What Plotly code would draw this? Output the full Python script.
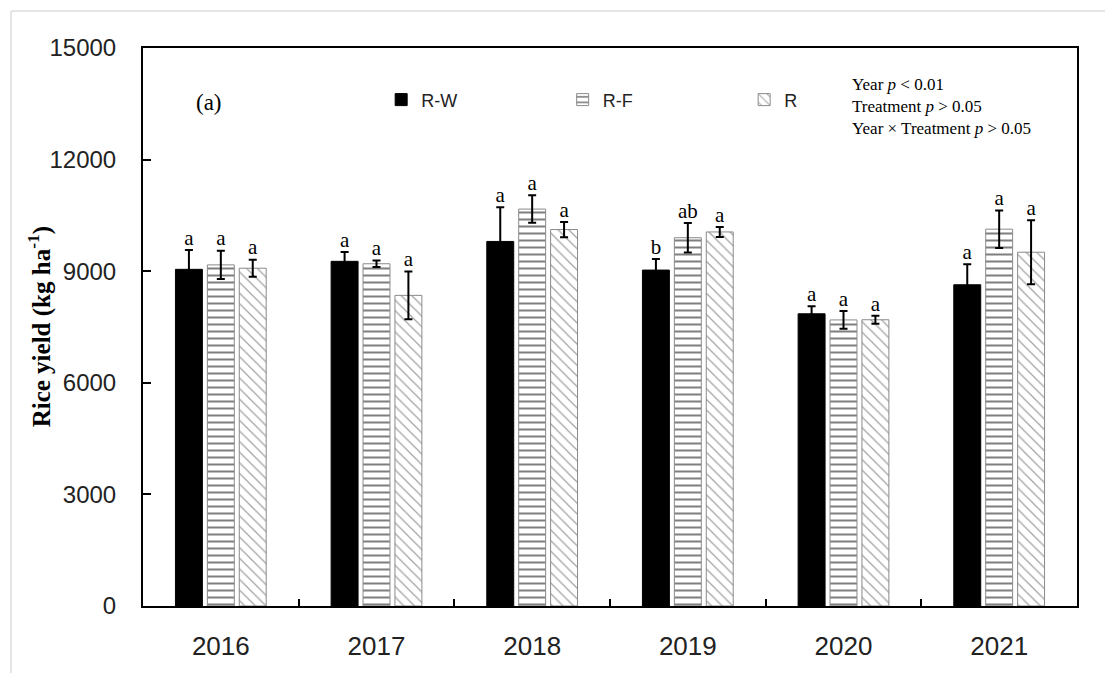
import plotly.graph_objects as go

years = ["2016", "2017", "2018", "2019", "2020", "2021"]

rw_yield = [9050, 9265, 9800, 9030, 7855, 8635]
rf_yield = [9170, 9200, 10670, 9900, 7690, 10130]
r_yield = [9080, 8350, 10120, 10055, 7695, 9510]

rw_err = [520, 250, 920, 295, 200, 555]
rf_err = [380, 90, 370, 395, 240, 505]
r_err = [230, 640, 205, 135, 105, 860]

rw_letters = ["a", "a", "a", "b", "a", "a"]
rf_letters = ["a", "a", "a", "ab", "a", "a"]
r_letters = ["a", "a", "a", "a", "a", "a"]

y_ticks = [0, 3000, 6000, 9000, 12000, 15000]

BARGAP = 0.385
GROUPGAP = 0.156
SERIF = "Liberation Serif, Times New Roman, serif"
SANS = "Liberation Sans, Arial, sans-serif"

slot = (1 - BARGAP) / 3

fig = go.Figure()

series = [
    ("R-W", rw_yield, rw_err, rw_letters,
     dict(color="black", line=dict(color="black", width=1))),
    ("R-F", rf_yield, rf_err, rf_letters,
     dict(color="white", line=dict(color="#8a8a8a", width=1),
          pattern=dict(shape="-", fgcolor="black", bgcolor="white",
                       size=7, solidity=0.29))),
    ("R", r_yield, r_err, r_letters,
     dict(color="white", line=dict(color="#8a8a8a", width=1),
          pattern=dict(shape="\\", fgcolor="#444444", bgcolor="white",
                       size=7.5, solidity=0.16))),
]

for name, vals, errs, _, marker in series:
    fig.add_trace(go.Bar(
        name=name, x=years, y=vals, marker=marker,
        error_y=dict(type="data", array=errs, color="black",
                     thickness=2, width=4, symmetric=True),
    ))

# significance letters above the error bars (numeric overlay axis,
# one unit per year group, so each letter sits over its own bar)
for i, (name, vals, errs, letters, _) in enumerate(series):
    fig.add_trace(go.Scatter(
        x=[k + (i - 1) * slot for k in range(len(years))],
        y=[v + e for v, e in zip(vals, errs)],
        xaxis="x2",
        mode="text", text=letters, textposition="top center",
        textfont=dict(family=SERIF, size=21, color="black"),
        showlegend=False, hoverinfo="skip", cliponaxis=False,
    ))

fig.update_layout(
    width=1105, height=673,
    margin=dict(l=143, r=28, t=48, b=67),
    paper_bgcolor="white", plot_bgcolor="white",
    barmode="group", bargap=BARGAP, bargroupgap=GROUPGAP,
    legend=dict(orientation="h", x=0.255, y=0.907, xanchor="left",
                yanchor="middle", bgcolor="rgba(0,0,0,0)",
                font=dict(family=SANS, size=18, color="#222"),
                entrywidth=136.5, entrywidthmode="pixels",
                itemwidth=30, traceorder="normal"),
    xaxis=dict(
        type="category", range=[-0.5, 5.5],
        tickson="boundaries", ticks="inside", ticklen=7, tickwidth=2,
        tickcolor="black",
        showline=True, linecolor="black", linewidth=2,
        mirror=True, showgrid=False, zeroline=False,
        tickfont=dict(family=SANS, size=26, color="#222"),
        ticklabelstandoff=16,
    ),
    xaxis2=dict(
        range=[-0.5, 5.5], overlaying="x", anchor="y", visible=False,
    ),
    yaxis=dict(
        range=[0, 15000], tickvals=y_ticks,
        ticktext=[str(v) for v in y_ticks],
        ticks="inside", ticklen=8, tickwidth=2, tickcolor="black",
        showline=True, linecolor="black", linewidth=2, mirror=True,
        showgrid=False, zeroline=False,
        tickfont=dict(family=SANS, size=24, color="#222"),
        ticklabelstandoff=20,
    ),
    annotations=[
        dict(text="<b>Rice yield (kg ha<sup>-1</sup>)</b>", xref="paper",
             yref="paper", x=-0.111, y=0.5, textangle=-90, showarrow=False,
             xanchor="center", yanchor="middle",
             font=dict(family=SERIF, size=25, color="black")),
        dict(text="(a)", xref="paper", yref="paper", x=0.055, y=0.903,
             showarrow=False, xanchor="left", yanchor="middle",
             font=dict(family=SERIF, size=23, color="black")),
        dict(text="Year <i>p</i> < 0.01<br>Treatment <i>p</i> > 0.05<br>"
                  "Year × Treatment <i>p</i> > 0.05",
             xref="paper", yref="paper", x=0.757, y=0.955, showarrow=False,
             xanchor="left", yanchor="top", align="left",
             font=dict(family=SERIF, size=17, color="black")),
    ],
    shapes=[
        dict(type="line", xref="paper", yref="paper",
             x0=-0.1413, x1=1.1, y0=1.0663, y1=1.0663,
             line=dict(color="#dddddd", width=1.5)),
        dict(type="line", xref="paper", yref="paper",
             x0=-0.1413, x1=-0.1413, y0=-0.2, y1=1.0663,
             line=dict(color="#dddddd", width=1.5)),
    ],
)

fig.write_html("out.html")
